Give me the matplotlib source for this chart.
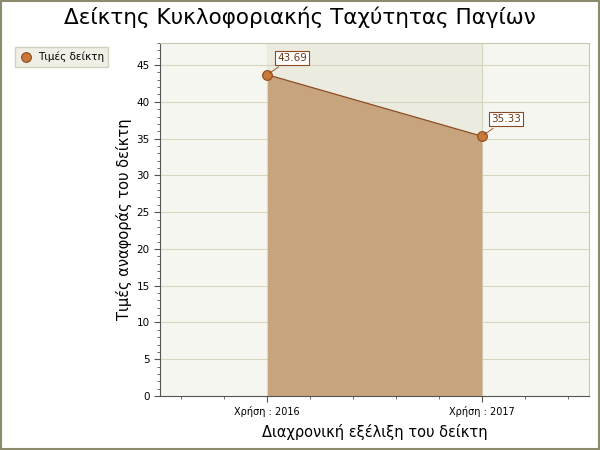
import matplotlib
matplotlib.use('Agg')
import matplotlib.pyplot as plt
from matplotlib.ticker import MultipleLocator
from matplotlib.patches import Rectangle

years = ['Χρήση : 2016', 'Χρήση : 2017']
values = [43.69, 35.33]
series_name = 'Τιμές δείκτη'

fig = plt.figure(figsize=(6, 4.5), dpi=100)
fig.patch.set_facecolor('white')
fig.patches.append(Rectangle((0.002, 0.002), 0.996, 0.996, transform=fig.transFigure,
                             fill=False, edgecolor='#8c8c6c', linewidth=1.5))

ax = fig.add_axes([160/600, 1 - 396/450, 429/600, 353/450])
ax.set_facecolor('#f6f6f0')
x = list(range(len(values)))

# shaded band between categories
ax.axvspan(x[0], x[-1], color='#ebebe0', zorder=0)
for v in range(5, 50, 5):
    ax.axhline(v, color='#d6d5c0', linewidth=0.8, zorder=1)
ax.axvline(x[-1], color='#d6d5c0', linewidth=0.8, zorder=1)

ax.fill_between(x, values, 0, color='#c8a47e', zorder=2, linewidth=0)
ax.plot(x, values, color='#8b4a1e', linewidth=0.9, zorder=3)
ax.plot(x, values, 'o', color='#c8793a', markeredgecolor='#8b4a1e', markersize=7,
        markeredgewidth=0.8, zorder=4, label=series_name)

for xi, v in zip(x, values):
    ax.annotate('%.2f' % v, xy=(xi, v), xytext=(7, 10), textcoords='offset points',
                fontsize=7.5, color='#6b3a1a',
                bbox=dict(boxstyle='square,pad=0.2', fc='white', ec='#8b4a1e', lw=0.8),
                arrowprops=dict(arrowstyle='-', color='#8b4a1e', lw=0.6), zorder=5)

ax.set_xlim(-0.5, 1.5)
ax.set_ylim(0, 48)
ax.set_xticks(x)
ax.set_xticklabels(years, fontsize=7)
ax.xaxis.set_minor_locator(MultipleLocator(0.2))
ax.yaxis.set_major_locator(MultipleLocator(5))
ax.yaxis.set_minor_locator(MultipleLocator(1))
ax.tick_params(axis='y', labelsize=7.5, length=4, color='#555555')
ax.tick_params(axis='x', length=4, color='#555555')
ax.tick_params(which='minor', length=2, color='#555555')

for s in ['left', 'bottom']:
    ax.spines[s].set_color('#555555')
for s in ['top', 'right']:
    ax.spines[s].set_color('#c8c8b0')

ax.set_xlabel('Διαχρονική εξέλιξη του δείκτη', fontsize=10.5, labelpad=5)
ax.set_ylabel('Τιμές αναφοράς του δείκτη', fontsize=10.5, labelpad=3)
fig.suptitle('Δείκτης Κυκλοφοριακής Ταχύτητας Παγίων', fontsize=15.5, y=0.985)

leg = fig.legend(loc='upper left', bbox_to_anchor=(10/600, 1 - 42/450), fontsize=7.5,
                 frameon=True, fancybox=False, handletextpad=0.5, borderpad=0.45,
                 handlelength=1.2)
leg.get_frame().set_facecolor('#ecebdf')
leg.get_frame().set_edgecolor('#c8c8b0')

plt.savefig('out.png', dpi=100)
